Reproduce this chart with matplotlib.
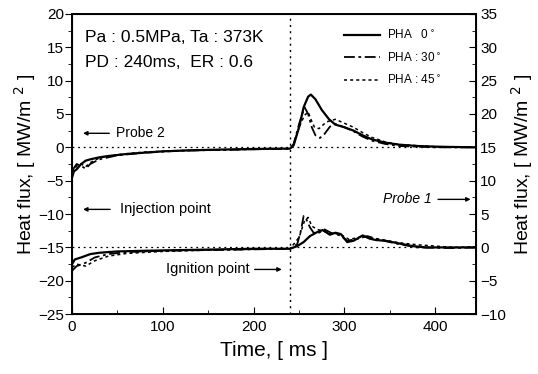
import matplotlib

matplotlib.use("Agg")
import matplotlib.pyplot as plt
from matplotlib.ticker import MultipleLocator

plt.rcParams["font.family"] = ["Liberation Sans", "DejaVu Sans"]

# Probe 2 (upper traces, left axis around 0)
p2_t0 = [0, 2, 5, 10, 15, 20, 30, 40, 60, 80, 100, 130, 160, 200, 230, 240, 244, 250, 255,
         260, 263, 268, 275, 283, 290, 300, 310, 320, 330, 345, 360, 380, 400, 420, 445]
p2_v0 = [-4.5, -3.6, -3.3, -2.5, -2.0, -1.8, -1.5, -1.3, -1.0, -0.8, -0.6, -0.45, -0.35, -0.25,
         -0.2, -0.2, 0.3, 3.0, 6.0, 7.6, 7.9, 7.2, 5.6, 4.2, 3.4, 3.0, 2.5, 1.8, 1.2, 0.7, 0.4,
         0.2, 0.1, 0.05, 0.0]
p2_t30 = [0, 5, 10, 15, 20, 30, 50, 80, 120, 200, 240, 244, 250, 256, 260, 264, 268, 273, 278,
          284, 290, 300, 310, 320, 330, 345, 360, 400, 445]
p2_v30 = [-3.5, -2.5, -2.8, -3.2, -2.5, -1.8, -1.2, -0.8, -0.5, -0.3, -0.2, 0.5, 3.5, 6.0, 5.0,
          3.0, 1.8, 1.4, 2.0, 3.1, 3.5, 3.0, 2.4, 1.6, 1.0, 0.5, 0.2, 0.0, 0.0]
p2_t45 = [0, 5, 10, 15, 20, 30, 50, 80, 120, 200, 240, 244, 250, 256, 260, 263, 267, 272, 280,
          290, 300, 310, 320, 330, 345, 360, 400, 445]
p2_v45 = [-3.8, -2.8, -2.5, -2.9, -2.3, -1.6, -1.1, -0.7, -0.5, -0.3, -0.2, 0.4, 3.0, 4.8, 5.3,
          4.2, 3.0, 2.8, 3.8, 4.2, 3.6, 3.0, 2.2, 1.5, 0.8, 0.4, 0.1, 0.0]

# Probe 1 (lower traces, left axis around -15)
p1_t0 = [0, 3, 10, 20, 30, 50, 80, 120, 160, 200, 240, 248, 255, 262, 270, 276, 284, 290, 296,
         303, 310, 320, 328, 335, 345, 360, 375, 390, 410, 445]
p1_v0 = [-17.5, -16.8, -16.5, -16.0, -15.8, -15.6, -15.5, -15.4, -15.3, -15.2, -15.2, -14.8,
         -14.2, -13.3, -12.7, -12.4, -13.1, -12.8, -13.0, -14.2, -14.0, -13.2, -13.7, -13.9,
         -14.0, -14.4, -14.8, -15.0, -15.0, -15.0]
p1_t30 = [0, 5, 15, 25, 40, 60, 100, 150, 240, 248, 252, 255, 258, 262, 266, 272, 278, 285,
          295, 303, 315, 325, 340, 360, 380, 420, 445]
p1_v30 = [-18.5, -17.8, -17.3, -16.5, -16.0, -15.7, -15.5, -15.4, -15.2, -14.5, -12.5, -10.3,
          -10.8, -12.0, -12.8, -12.8, -12.3, -12.8, -13.2, -14.0, -13.7, -13.3, -13.9, -14.5,
          -15.0, -15.1, -15.0]
p1_t45 = [0, 5, 15, 25, 40, 60, 100, 150, 240, 250, 256, 260, 264, 270, 278, 285, 295, 305,
          320, 340, 360, 380, 400, 420, 445]
p1_v45 = [-18.0, -17.5, -17.8, -17.0, -16.3, -15.9, -15.6, -15.4, -15.2, -13.5, -11.0, -10.5,
          -11.8, -12.3, -12.6, -12.9, -13.0, -13.8, -13.4, -13.8, -14.3, -14.6, -14.8, -15.0,
          -14.9]

legend_labels = ["PHA   0$^\\circ$", "PHA : 30$^\\circ$", "PHA : 45$^\\circ$"]
ignition_ms = 240
right_offset = 15

fig = plt.figure(figsize=(5.38, 3.74), dpi=100)
ax = fig.add_axes([0.134, 0.160, 0.751, 0.803])

styles = [dict(color="black", lw=1.6, ls="-"),
          dict(color="black", lw=1.3, ls=(0, (6, 2, 1.5, 2))),
          dict(color="black", lw=1.1, ls=(0, (2, 2)))]

h0, = ax.plot(p2_t0, p2_v0, **styles[0])
h30, = ax.plot(p2_t30, p2_v30, **styles[1])
h45, = ax.plot(p2_t45, p2_v45, **styles[2])
ax.plot(p1_t0, p1_v0, **styles[0])
ax.plot(p1_t30, p1_v30, **styles[1])
ax.plot(p1_t45, p1_v45, **styles[2])

ax.axhline(0, color="black", lw=0.9, ls=(0, (1.5, 3)))
ax.axhline(-15, color="black", lw=0.9, ls=(0, (1.5, 3)))
ax.axvline(ignition_ms, color="black", lw=1.0, ls=(0, (1.5, 3)))

ax.set_xlim(0, 445)
ax.set_ylim(-25, 20)
ax.xaxis.set_major_locator(MultipleLocator(100))
ax.xaxis.set_minor_locator(MultipleLocator(50))
ax.yaxis.set_major_locator(MultipleLocator(5))
ax.yaxis.set_minor_locator(MultipleLocator(2.5))
ax.tick_params(axis="x", direction="in", length=5, labelsize=11, pad=4)
ax.tick_params(axis="x", which="minor", direction="in", length=3)
ax.tick_params(axis="y", direction="out", length=5, labelsize=11, pad=1)
ax.tick_params(axis="y", which="minor", direction="out", length=3)
for spine in ax.spines.values():
    spine.set_linewidth(1.4)

ax2 = ax.twinx()
ax2.set_ylim(-25 + right_offset, 20 + right_offset)
ax2.yaxis.set_major_locator(MultipleLocator(5))
ax2.yaxis.set_minor_locator(MultipleLocator(2.5))
ax2.tick_params(axis="y", direction="in", length=5, labelsize=11, pad=3)
ax2.tick_params(axis="y", which="minor", direction="in", length=3)

ax.set_xlabel("Time, [ ms ]", fontsize=15, labelpad=5)
ax.set_ylabel("Heat flux, [ MW/m $^{2}$ ]", fontsize=14, labelpad=0)
ax2.set_ylabel("Heat flux, [ MW/m $^{2}$ ]", fontsize=14, labelpad=2)

ax.text(14, 16.5, "Pa : 0.5MPa, Ta : 373K", fontsize=12.5, va="center")
ax.text(14, 12.7, "PD : 240ms,  ER : 0.6", fontsize=12.5, va="center")

ax.legend([h0, h30, h45], legend_labels, loc="upper right", bbox_to_anchor=(0.94, 0.985),
          frameon=False, fontsize=8.5, handlelength=3.0, handletextpad=0.6, labelspacing=0.8)

arrow = dict(arrowstyle="-|>", color="black", lw=1.0, mutation_scale=6)
ax.annotate("", xy=(9, 2.1), xytext=(44, 2.1), arrowprops=arrow)
ax.text(48, 2.1, "Probe 2", fontsize=10, va="center")
ax.annotate("", xy=(9, -9.3), xytext=(45, -9.3), arrowprops=arrow)
ax.text(53, -9.3, "Injection point", fontsize=10.5, va="center")
ax.annotate("", xy=(234, -18.3), xytext=(198, -18.3), arrowprops=arrow)
ax.text(196, -18.3, "Ignition point", fontsize=10.5, va="center", ha="right")
ax.annotate("", xy=(442, -7.8), xytext=(400, -7.8), arrowprops=arrow)
ax.text(396, -7.8, "Probe 1", fontsize=10, va="center", ha="right", style="italic")

fig.savefig("out.png", dpi=100)
